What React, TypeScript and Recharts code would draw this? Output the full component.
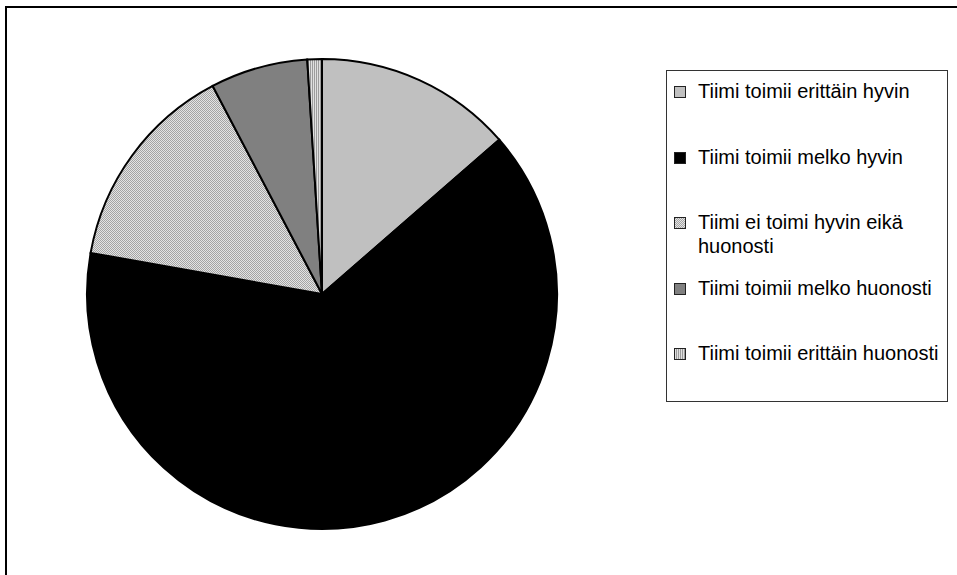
import { PieChart, Pie, Cell, Legend } from 'recharts';

const labels = [
  'Tiimi toimii erittäin hyvin',
  'Tiimi toimii melko hyvin',
  'Tiimi ei toimi hyvin eikä huonosti',
  'Tiimi toimii melko huonosti',
  'Tiimi toimii erittäin huonosti',
];
const shares = [13.6, 64.2, 14.5, 6.7, 1.0];
const fills = ['#C0C0C0', '#000000', 'url(#dots)', '#808080', 'url(#stripes)'];

const data = labels.map((name, i) => ({ name, value: shares[i] }));

const FONT = '"Liberation Sans", Arial, sans-serif';

const LegendBox = () => (
  <div style={{ position: 'relative', width: '100%', height: '100%', fontFamily: FONT }}>
    {labels.map((name, i) => (
      <div
        key={name}
        style={{
          position: 'absolute',
          left: 7,
          top: 8 + i * 65.5,
          display: 'flex',
          alignItems: 'flex-start',
        }}
      >
        <svg width={12} height={12} style={{ marginTop: 7, flex: 'none' }}>
          <rect x={0.5} y={0.5} width={11} height={11} fill={fills[i]} stroke="#222" />
        </svg>
        <span style={{ marginLeft: 12, fontSize: 20, lineHeight: '24px', color: '#000', width: 250 }}>
          {name}
        </span>
      </div>
    ))}
  </div>
);

export default function App() {
  return (
    <div style={{ position: 'absolute', left: 0, top: 0, width: 957, height: 575, background: '#fff', overflow: 'hidden' }}>
      <div
        style={{
          position: 'absolute',
          left: 5,
          top: 6,
          width: 1000,
          height: 600,
          borderTop: '2px solid #000',
          borderLeft: '2px solid #000',
        }}
      />
      <PieChart
        width={957}
        height={575}
        margin={{ top: 0, right: 0, bottom: 0, left: 0 }}
        style={{ position: 'absolute', left: 0, top: 0 }}
      >
        <defs>
          <pattern id="dots" width={2} height={2} patternUnits="userSpaceOnUse">
            <rect width={2} height={2} fill="#E4E4E4" />
            <rect x={0} y={0} width={1} height={1} fill="#A4A4A4" />
            <rect x={1} y={1} width={1} height={1} fill="#A4A4A4" />
          </pattern>
          <pattern id="stripes" width={2} height={2} patternUnits="userSpaceOnUse">
            <rect width={2} height={2} fill="#E0E0E0" />
            <rect x={0} y={0} width={1} height={2} fill="#9C9C9C" />
          </pattern>
        </defs>
        <Pie
          data={data}
          dataKey="value"
          nameKey="name"
          cx={322}
          cy={294}
          outerRadius={235}
          startAngle={90}
          endAngle={-270}
          stroke="#000"
          strokeWidth={2}
          isAnimationActive={false}
          labelLine={false}
        >
          {data.map((d, i) => (
            <Cell key={d.name} fill={fills[i]} />
          ))}
        </Pie>
        <Legend
          content={<LegendBox />}
          wrapperStyle={{
            left: 666,
            top: 70,
            width: 282,
            height: 332,
            border: '1px solid #333',
            background: '#fff',
            boxSizing: 'border-box',
          }}
        />
      </PieChart>
    </div>
  );
}
